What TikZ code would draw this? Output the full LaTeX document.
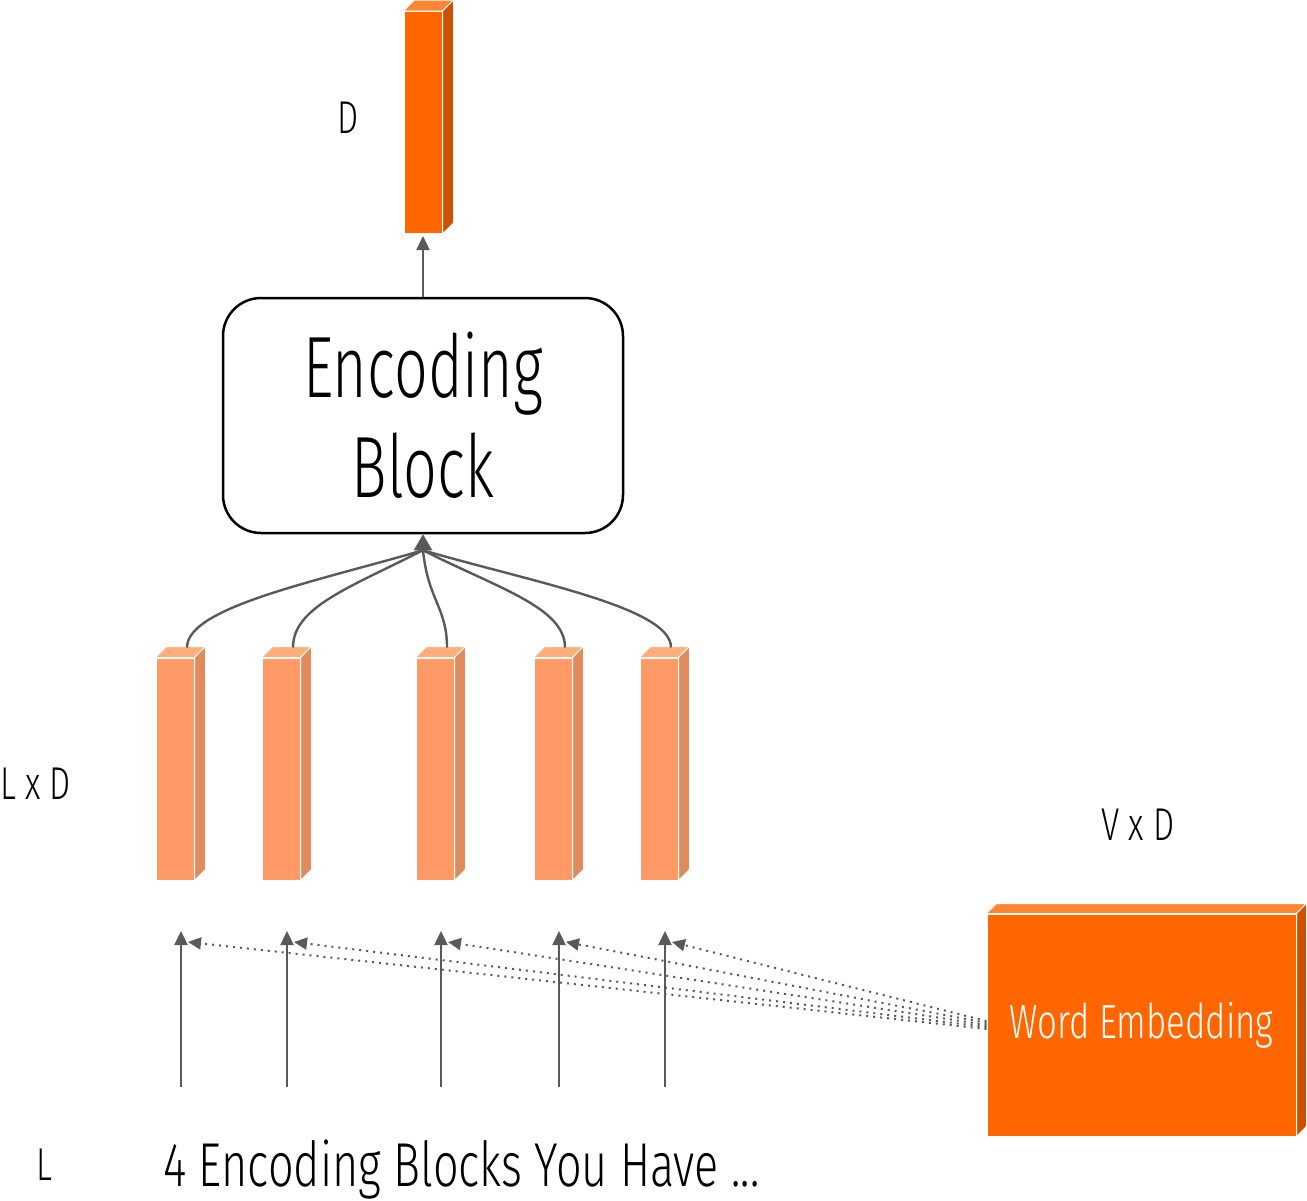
\documentclass[tikz,border=0pt]{standalone}
\usepackage{fontspec}
\setmainfont[FakeStretch=0.725]{Fira Sans Light}
\newfontfamily\blockfont[FakeStretch=0.68]{Fira Sans Light}
\usetikzlibrary{positioning,arrows.meta,calc}

\definecolor{hot}{HTML}{FF6600}
\definecolor{hottop}{HTML}{FF8533}
\definecolor{hotside}{HTML}{CC5200}
\definecolor{warm}{HTML}{FF9966}
\definecolor{warmtop}{HTML}{FFAD7A}
\definecolor{warmside}{HTML}{E08A5E}
\definecolor{wire}{HTML}{595959}

% top and side faces of a vector drawn as a thin box
\newcommand\prism[4]{%
  \filldraw[#2,draw=white,line width=1pt] (#1.north west) -- ++(#4,-#4) -- ($(#1.north east)+(#4,-#4)$) -- (#1.north east) -- cycle;
  \filldraw[#3,draw=white,line width=1pt] (#1.north east) -- ++(#4,-#4) -- ($(#1.south east)+(#4,-#4)$) -- (#1.south east) -- cycle;}

\begin{document}
\begin{tikzpicture}[x=1pt,y=-1pt,>={Triangle[length=14pt,width=13pt]},
  wire/.style={draw=wire,line width=2.4pt},
  hint/.style={draw=wire,line width=2pt,dash pattern=on 2pt off 5pt,>={Triangle[length=13pt,width=12pt]}},
  vec/.style={rectangle,fill=warm,draw=white,line width=1pt,minimum width=38pt,minimum height=222pt,inner sep=0},
  block/.style={draw,line width=2.5pt,rounded corners=38pt,minimum width=400pt,minimum height=235pt,align=center,
    font=\blockfont\fontsize{87}{100}\selectfont},
  lab/.style={inner sep=0,font=\fontsize{46}{50}\selectfont}]
  \useasboundingbox (0,0) rectangle (1307,1200);

  \node[block] (enc) at (423,415.5) {Encoding\\Block};
  \node[vec,fill=hot] (out) at (423,122.5) {};
  \prism{out}{hottop}{hotside}{11}
  \foreach \x [count=\i] in {175,281,435,553,659}{
    \node[vec] (v\i) at (\x,769) {};
    \prism{v\i}{warmtop}{warmside}{11}
  }
  \node[vec,fill=hot,minimum width=309pt,text=white,font=\fontsize{48}{50}\selectfont] (emb) at (1141.5,1025) {Word Embedding};
  \prism{emb}{hottop}{hotside}{10}

  \draw[wire,->,shorten >=2pt] (enc.north) -- (out.south);

  \coordinate (hub) at ($(enc.south)+(0,16)$);
  \draw[wire,->,>={Triangle[length=16pt,width=18pt]}] (hub) -- (enc.south);
  \foreach \i/\dx/\dy in {1/-110/32,2/-75/38,3/5/50,4/75/38,5/110/32}
    \draw[wire] ($(v\i.north)+(12,-10)$) .. controls +(0,-40) and +(\dx,\dy) .. (hub);

  \foreach \x [count=\i] in {181,287,441,559,665}{
    \coordinate (in\i) at (\x,1087);
    \coordinate (up\i) at (\x,931);
    \coordinate (hit\i) at (\x+7,942);
    \draw[wire,->] (in\i) -- (up\i);
  }
  \foreach \i/\s in {1/4,2/2,3/0,4/-2,5/-4}
    \draw[hint,->] ($(emb.west)+(0,\s)$) -- (hit\i);

  \node[lab,anchor=base] (dim) at (348,133) {D};
  \node[lab,anchor=base west] (ld) at (0,799) {L x D};
  \node[lab,anchor=base] (vd) at (1138,840) {V x D};
  \node[lab,anchor=base] (len) at (44,1180) {L};
  \node[inner sep=0,anchor=base west,font=\fontsize{62}{70}\selectfont] (note) at (163,1186) {4 Encoding Blocks You Have ...};
\end{tikzpicture}
\end{document}
